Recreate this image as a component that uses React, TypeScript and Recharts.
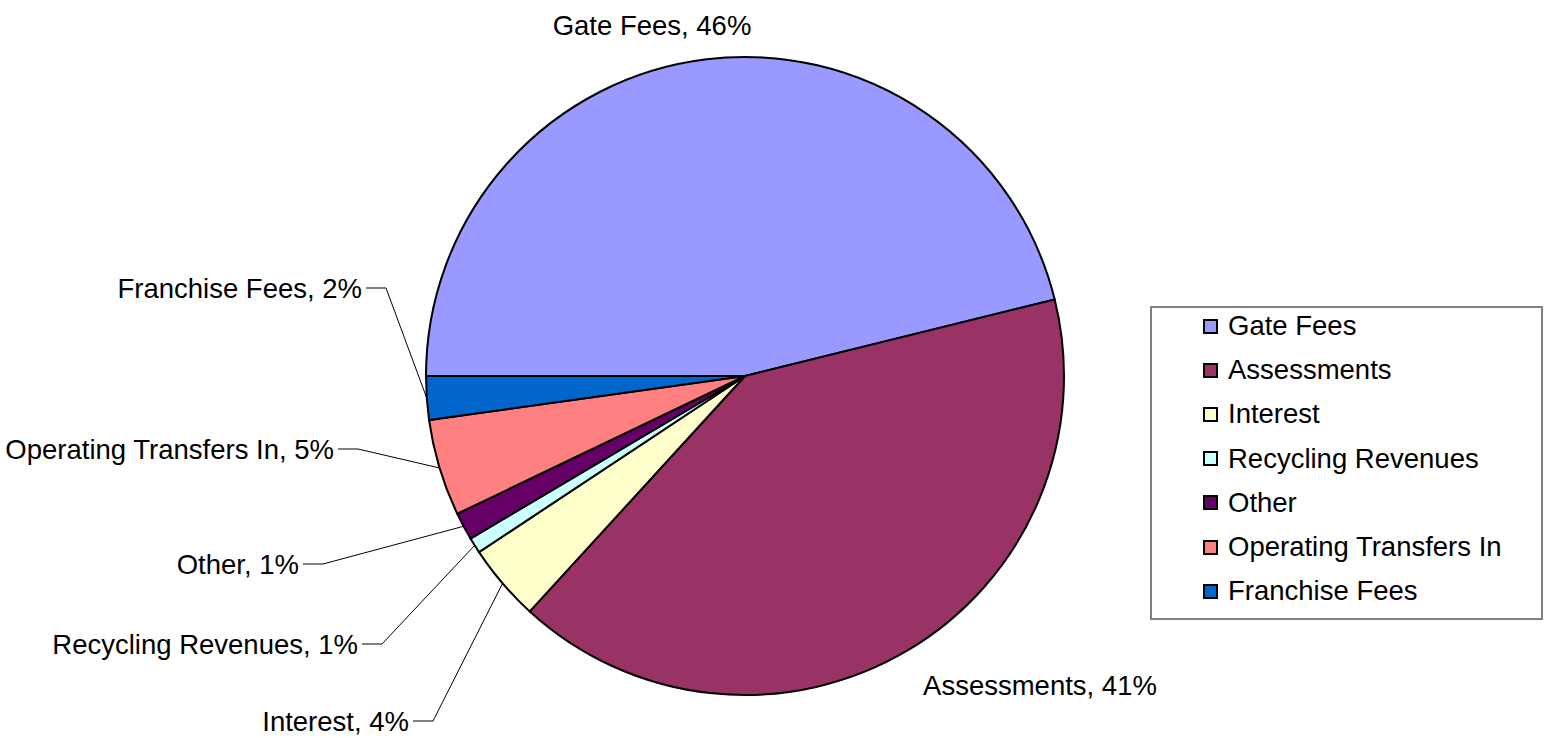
import { PieChart, Pie, Cell, Legend } from "recharts";

const CATEGORIES = [
  "Gate Fees",
  "Assessments",
  "Interest",
  "Recycling Revenues",
  "Other",
  "Operating Transfers In",
  "Franchise Fees",
];
const SHARES = [46.1, 40.6, 3.9, 0.8, 1.4, 4.9, 2.2];
const COLORS = [
  "#9999ff",
  "#993366",
  "#ffffcc",
  "#ccffff",
  "#660066",
  "#ff8080",
  "#0066cc",
];

// label placement relative to pie centre: [dx, dy, kind]
// "left" = elbow point of a leader line, text ends left of it
const LABEL_LAYOUT: [number, number, string][] = [
  [-93, -351, "center"],
  [295, 309, "center"],
  [-312, 345, "left"],
  [-363, 268, "left"],
  [-422, 188, "left"],
  [-387, 73, "left"],
  [-359, -88, "left"],
];

const FONT = "'Liberation Sans', Arial, sans-serif";
const FONT_SIZE = 27.5;
const RADIAN = Math.PI / 180;

const data = CATEGORIES.map((name, i) => ({ name, value: SHARES[i] }));

function renderLabel(props: any) {
  const { cx, cy, midAngle, outerRadius, index, percent, name } = props;
  const [dx, dy, kind] = LABEL_LAYOUT[index];
  const text = `${name}, ${Math.round(percent * 100)}%`;
  const lx = cx + dx;
  const ly = cy + dy;
  if (kind === "center") {
    return (
      <text
        key={`l-${index}`}
        x={lx}
        y={ly}
        textAnchor="middle"
        dominantBaseline="central"
        fill="#000"
        style={{ fontFamily: FONT, fontSize: FONT_SIZE }}
      >
        {text}
      </text>
    );
  }
  const px = cx + outerRadius * Math.cos(-midAngle * RADIAN);
  const py = cy + outerRadius * Math.sin(-midAngle * RADIAN);
  return (
    <g key={`l-${index}`}>
      <polyline
        points={`${lx - 20},${ly} ${lx},${ly} ${px},${py}`}
        fill="none"
        stroke="#000"
        strokeWidth={1}
      />
      <text
        x={lx - 24}
        y={ly}
        textAnchor="end"
        dominantBaseline="central"
        fill="#000"
        style={{ fontFamily: FONT, fontSize: FONT_SIZE }}
      >
        {text}
      </text>
    </g>
  );
}

function LegendBox() {
  return (
    <div
      style={{
        width: 393,
        height: 314,
        boxSizing: "border-box",
        border: "2px solid #808080",
        background: "#fff",
        paddingTop: 0,
        fontFamily: FONT,
        fontSize: FONT_SIZE,
        color: "#000",
      }}
    >
      <div style={{ height: 0, position: "relative" }}>
        {CATEGORIES.map((name, i) => (
          <div
            key={name}
            style={{
              position: "absolute",
              left: 51,
              top: 18 + i * 44.2 - 20,
              height: 40,
              display: "flex",
              alignItems: "center",
              whiteSpace: "nowrap",
            }}
          >
            <span
              style={{
                display: "inline-block",
                width: 11,
                height: 11,
                border: "2px solid #000",
                background: COLORS[i],
                marginRight: 10,
              }}
            />
            <span>{name}</span>
          </div>
        ))}
      </div>
    </div>
  );
}

export default function App() {
  return (
    <div
      style={{
        position: "absolute",
        left: 0,
        top: 0,
        width: 1550,
        height: 738,
        background: "#fff",
      }}
    >
      <PieChart
        width={1550}
        height={738}
        margin={{ top: 0, right: 0, bottom: 0, left: 0 }}
      >
        <Pie
          data={data}
          dataKey="value"
          nameKey="name"
          cx={745}
          cy={376}
          outerRadius={319}
          startAngle={180}
          endAngle={-180}
          stroke="#000"
          strokeWidth={2}
          label={renderLabel}
          labelLine={false}
          isAnimationActive={false}
        >
          {data.map((_, i) => (
            <Cell key={i} fill={COLORS[i]} />
          ))}
        </Pie>
        <Legend
          content={() => <LegendBox />}
          wrapperStyle={{ position: "absolute", left: 1150, top: 306, width: 393 }}
        />
      </PieChart>
    </div>
  );
}
